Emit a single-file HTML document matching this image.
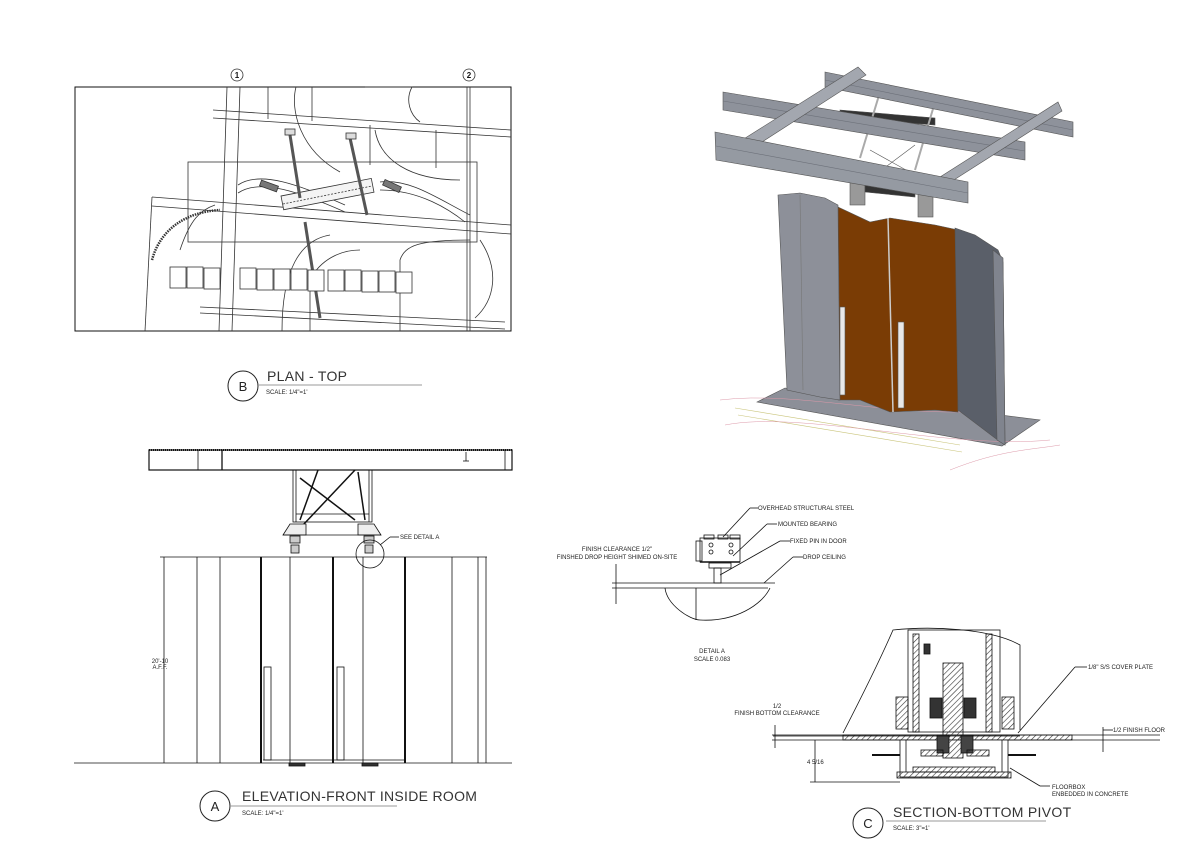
<!DOCTYPE html>
<html><head><meta charset="utf-8"><style>
html,body{margin:0;padding:0;background:#fff;}
svg{display:block;font-family:"Liberation Sans",sans-serif;}
.t{font-size:6px;fill:#222;}
.h{font-size:14px;fill:#333;letter-spacing:0.3px;}
</style></head><body>
<svg width="1200" height="861" viewBox="0 0 1200 861" xmlns="http://www.w3.org/2000/svg">
<defs>
<pattern id="hat" width="4" height="4" patternUnits="userSpaceOnUse" patternTransform="rotate(45)"><line x1="0" y1="0" x2="0" y2="4" stroke="#333" stroke-width="1.2"/></pattern>
</defs>
<rect width="1200" height="861" fill="#fff"/>

<!-- PLAN B -->
<g stroke="#333" fill="none" stroke-width="0.8">
<rect x="75" y="87" width="436" height="244" stroke="#111" stroke-width="1"/>
<circle cx="237" cy="75" r="6"/><circle cx="469" cy="75" r="6"/>
<rect x="188" y="162" width="289" height="80"/>
<line x1="227" y1="87" x2="219" y2="331"/><line x1="240" y1="87" x2="232" y2="331"/>
<line x1="467" y1="87" x2="467" y2="331"/><line x1="470" y1="87" x2="470" y2="331"/>
<line x1="213" y1="110" x2="511" y2="130"/><line x1="213" y1="118" x2="511" y2="137"/>
<line x1="152" y1="197" x2="511" y2="225"/><line x1="152" y1="206" x2="511" y2="234"/>
<line x1="200" y1="307" x2="505" y2="322"/><line x1="200" y1="313" x2="505" y2="329"/>
<line x1="152" y1="197" x2="145" y2="331"/>
<line x1="268" y1="87" x2="268" y2="119"/><line x1="312" y1="87" x2="312" y2="121"/>
<line x1="370" y1="125" x2="370" y2="165"/><line x1="436" y1="130" x2="436" y2="168"/>
<path d="M365 87 L412 87 C405 100 410 115 420 122 M296 87 C290 110 300 150 340 172 M375 130 C380 160 410 180 460 180 M282 331 C282 270 300 240 330 235 M310 331 L310 280 C320 260 340 250 360 250 M400 331 L400 260 C405 245 420 240 470 240 M180 250 C190 220 200 210 215 205 M480 240 C500 270 495 300 475 318"/>
<path d="M238 185 C260 170 300 185 345 205 M238 193 C260 178 300 192 345 212 M380 190 C420 190 450 210 465 222 M380 182 C410 178 440 200 470 215" />
<rect x="0" y="0" width="92" height="14" transform="translate(281 196) rotate(-11)" fill="#f4f4f4"/>
<line x1="283" y1="204" x2="372" y2="186" stroke-dasharray="2 1.5"/>
<rect x="260" y="183" width="18" height="6" transform="rotate(20 269 186)" fill="#777"/>
<rect x="383" y="183" width="18" height="6" transform="rotate(25 392 186)" fill="#777"/>
<line x1="290" y1="135" x2="300" y2="198" stroke-width="3" stroke="#555"/>
<line x1="350" y1="138" x2="367" y2="215" stroke-width="3" stroke="#555"/>
<line x1="305" y1="222" x2="320" y2="318" stroke-width="3" stroke="#555"/>
<rect x="285" y="129" width="10" height="6" fill="#ddd"/><rect x="346" y="133" width="10" height="6" fill="#ddd"/>
<path d="M152 260 C160 230 185 212 220 210" stroke-dasharray="1.5 1" stroke-width="2.5"/>
</g>
<g font-size="8" font-weight="bold" text-anchor="middle" fill="#111"><text x="237" y="78">1</text><text x="469" y="78">2</text></g>
<g stroke="#333" fill="#fff" stroke-width="0.8">
<rect x="170" y="267" width="16" height="21"/><rect x="187" y="267" width="16" height="21"/><rect x="204" y="268" width="16" height="21"/>
<rect x="240" y="268" width="16" height="21"/><rect x="257" y="269" width="16" height="21"/><rect x="274" y="269" width="16" height="21"/><rect x="291" y="269" width="16" height="21"/><rect x="308" y="270" width="16" height="21"/>
<rect x="328" y="270" width="16" height="21"/><rect x="345" y="270" width="16" height="21"/><rect x="362" y="271" width="16" height="21"/><rect x="379" y="271" width="16" height="21"/><rect x="396" y="272" width="16" height="21"/>
</g>
<circle cx="243" cy="386" r="15" fill="none" stroke="#222"/>
<text x="243" y="391" font-size="13" text-anchor="middle" fill="#222">B</text>
<text x="267" y="381" class="h">PLAN - TOP</text>
<line x1="258" y1="385" x2="422" y2="385" stroke="#999"/>
<text x="266" y="394" class="t" font-size="5">SCALE: 1/4"=1'</text>

<!-- ELEVATION A -->
<g stroke="#111" fill="none" stroke-width="0.8">
<rect x="149" y="450" width="363" height="20" stroke-width="1.2"/>
<line x1="149" y1="450" x2="512" y2="450" stroke-dasharray="1 1" stroke-width="2"/>
<line x1="198" y1="450" x2="198" y2="470"/><line x1="222" y1="450" x2="222" y2="470" stroke-width="1.3"/><line x1="505" y1="450" x2="505" y2="470"/>
<line x1="466" y1="452" x2="466" y2="461"/><line x1="463" y1="461" x2="469" y2="461"/>
<rect x="293" y="470" width="79" height="52"/>
<line x1="296" y1="470" x2="296" y2="522"/><line x1="369" y1="470" x2="369" y2="522"/>
<line x1="296" y1="514" x2="369" y2="514"/>
<line x1="300" y1="478" x2="355" y2="520" stroke-width="1.5"/><line x1="355" y1="470" x2="303" y2="525" stroke-width="1.5"/>
<line x1="318" y1="470" x2="300" y2="520" stroke-width="1.5"/><line x1="358" y1="472" x2="365" y2="520" stroke-width="1.5"/>
<path d="M283 535 L290 524 L306 524 L306 535 Z M358 535 L358 524 L374 524 L381 535 Z" fill="#eee"/>
<line x1="283" y1="535" x2="381" y2="535"/>
<rect x="290" y="536" width="10" height="7" fill="#ccc"/><rect x="291" y="545" width="8" height="8" fill="#ccc"/>
<rect x="364" y="536" width="10" height="7" fill="#ccc"/><rect x="365" y="545" width="8" height="8" fill="#ccc"/>
<line x1="160" y1="557" x2="487" y2="557"/>
<line x1="74" y1="763" x2="512" y2="763"/>
<line x1="197" y1="557" x2="197" y2="763"/><line x1="220" y1="557" x2="220" y2="763"/>
<line x1="261" y1="557" x2="261" y2="763" stroke-width="2"/><line x1="290" y1="557" x2="290" y2="763"/>
<line x1="333" y1="557" x2="333" y2="763" stroke-width="2"/><line x1="363" y1="557" x2="363" y2="763"/>
<line x1="405" y1="557" x2="405" y2="763" stroke-width="2"/><line x1="452" y1="557" x2="452" y2="763"/>
<line x1="478" y1="557" x2="478" y2="763"/><line x1="486" y1="557" x2="486" y2="763"/>
<line x1="263" y1="760" x2="404" y2="760"/>
<line x1="164" y1="557" x2="164" y2="763"/>
<rect x="264" y="667" width="7" height="93"/><rect x="337" y="667" width="7" height="93"/>
<circle cx="370" cy="554" r="14"/>
<line x1="380" y1="545" x2="390" y2="537"/><line x1="390" y1="537" x2="399" y2="537"/>
<rect x="289" y="763" width="16" height="3" fill="#333"/><rect x="362" y="763" width="16" height="3" fill="#333"/>
</g>
<text x="400" y="539" class="t">SEE DETAIL  A</text>
<text x="160" y="663" class="t" font-size="5" text-anchor="middle">20'-10</text>
<text x="160" y="669" class="t" font-size="5" text-anchor="middle">A.F.F.</text>
<circle cx="215" cy="806" r="15" fill="none" stroke="#222"/>
<text x="215" y="811" font-size="13" text-anchor="middle" fill="#222">A</text>
<text x="242" y="801" class="h">ELEVATION-FRONT INSIDE ROOM</text>
<line x1="230" y1="806" x2="397" y2="806" stroke="#999"/>
<text x="242" y="815" class="t" font-size="5">SCALE: 1/4"=1'</text>

<!-- 3D render -->
<g stroke="#555" stroke-width="0.6">
<polygon points="757,402 785,388 1040,420 1002,446" fill="#8c8f98"/>
<g stroke="#c9c47a" fill="none"><path d="M735 408 L960 445"/><path d="M738 415 L962 452"/></g>
<path d="M720 400 C800 390 900 420 1000 410 M725 425 C800 410 950 450 1050 440 M950 470 C1000 450 1030 450 1060 445" stroke="#d9a" fill="none" stroke-width="0.5"/>
<polygon points="838,207 870,222 890,218 935,225 958,230 958,412 935,410 890,412 860,400 838,400" fill="#7a3c05"/>
<line x1="888" y1="218" x2="893" y2="412" stroke="#ccc" stroke-width="1.5"/>
<polygon points="778,195 800,193 825,198 838,205 840,400 820,397 787,390" fill="#8d9099"/>
<line x1="800" y1="195" x2="803" y2="390" stroke="#777"/>
<polygon points="955,228 975,235 998,250 1003,262 1005,445 995,438 958,410" fill="#5a5f69"/>
<polygon points="993,250 1003,258 1005,445 997,440" fill="#80848e"/>
<rect x="840" y="307" width="5" height="88" fill="#e8e8e8"/>
<rect x="898" y="322" width="6" height="86" fill="#e8e8e8"/>
<rect x="850" y="180" width="15" height="25" fill="#999"/><rect x="918" y="192" width="15" height="25" fill="#999"/>
<polygon points="865,185 915,190 915,197 865,192" fill="#333"/>
<polygon points="840,110 935,118 935,125 840,118" fill="#333"/>
<line x1="880" y1="92" x2="860" y2="158" stroke="#aaa" stroke-width="2"/><line x1="935" y1="102" x2="915" y2="170" stroke="#aaa" stroke-width="2"/>
<line x1="870" y1="150" x2="915" y2="175"/><line x1="915" y1="145" x2="875" y2="175"/>
<polygon points="825,72 1073,122 1073,137 825,87" fill="#8e929b"/>
<line x1="825" y1="80" x2="1073" y2="130" stroke="#6d717a"/>
<polygon points="723,92 1025,142 1025,160 723,110" fill="#8e929b"/>
<line x1="723" y1="101" x2="1025" y2="151" stroke="#6d717a"/>
<polygon points="723,152 858,67 866,75 731,162" fill="#a3a7af"/>
<polygon points="940,177 1058,102 1062,111 946,185" fill="#a3a7af"/>
<polygon points="715,132 968,182 968,203 716,160" fill="#959aa2"/>
<line x1="716" y1="146" x2="968" y2="193" stroke="#6d717a"/>
</g>

<!-- DETAIL A -->
<g stroke="#111" fill="none" stroke-width="0.8">
<line x1="612" y1="583" x2="775" y2="583"/><line x1="612" y1="588" x2="768" y2="588"/>
<path d="M665 588 C667 605 690 620 700 620 C735 622 762 605 770 588"/>
<line x1="696" y1="588" x2="696" y2="620"/>
<rect x="700" y="538" width="40" height="24" fill="#fff"/>
<rect x="696" y="541" width="6" height="20"/>
<rect x="704" y="535" width="10" height="4"/><rect x="718" y="535" width="10" height="4"/><rect x="730" y="535" width="10" height="4"/>
<line x1="700" y1="562" x2="740" y2="562" stroke-width="1.5"/>
<rect x="709" y="563" width="22" height="5"/>
<rect x="714" y="568" width="7" height="15"/>
<circle cx="711" cy="545" r="2"/><circle cx="711" cy="552" r="2"/><circle cx="731" cy="545" r="2"/><circle cx="731" cy="552" r="2"/>
<line x1="616" y1="564" x2="616" y2="604"/>
<line x1="723" y1="537" x2="750" y2="508"/><line x1="750" y1="508" x2="758" y2="508"/>
<line x1="733" y1="556" x2="767" y2="524"/><line x1="767" y1="524" x2="777" y2="524"/>
<line x1="720" y1="575" x2="780" y2="541"/><line x1="780" y1="541" x2="790" y2="541"/>
<line x1="764" y1="583" x2="793" y2="557"/><line x1="793" y1="557" x2="803" y2="557"/>
</g>
<g class="t">
<text x="758" y="510">OVERHEAD STRUCTURAL STEEL</text>
<text x="778" y="526">MOUNTED BEARING</text>
<text x="790" y="543">FIXED PIN IN DOOR</text>
<text x="803" y="559">DROP CEILING</text>
<text x="617" y="551" text-anchor="middle">FINISH CLEARANCE 1/2"</text>
<text x="617" y="559" text-anchor="middle">FINSHED DROP HEIGHT SHIMED ON-SITE</text>
<text x="712" y="653" text-anchor="middle">DETAIL  A</text>
<text x="712" y="661" text-anchor="middle">SCALE  0.083</text>
</g>

<!-- SECTION C -->
<g stroke="#111" fill="none" stroke-width="0.8">
<path d="M843 733 C860 700 880 660 893 630 C930 626 990 628 1020 645 L1020 730"/>
<line x1="772" y1="735" x2="1160" y2="735"/><line x1="772" y1="740" x2="1160" y2="740"/>
<rect x="843" y="735" width="229" height="5" fill="url(#hat)"/>
<rect x="900" y="740" width="108" height="37" fill="#fff"/>
<line x1="906" y1="740" x2="906" y2="772"/><line x1="1002" y1="740" x2="1002" y2="772"/>
<rect x="897" y="772" width="114" height="6" fill="url(#hat)"/>
<rect x="913" y="767" width="82" height="5" fill="url(#hat)"/>
<line x1="872" y1="755" x2="900" y2="755" stroke-width="2"/><line x1="1008" y1="755" x2="1036" y2="755" stroke-width="2"/>
<rect x="908" y="630" width="92" height="102"/>
<rect x="913" y="634" width="6" height="98" fill="url(#hat)"/><rect x="986" y="634" width="6" height="98" fill="url(#hat)"/>
<rect x="896" y="697" width="12" height="32" fill="url(#hat)"/><rect x="1002" y="697" width="12" height="32" fill="url(#hat)"/>
<rect x="943" y="663" width="20" height="95" fill="url(#hat)"/>
<rect x="930" y="698" width="12" height="20" fill="#333"/><rect x="964" y="698" width="12" height="20" fill="#333"/>
<rect x="937" y="735" width="12" height="18" fill="#444"/><rect x="961" y="735" width="12" height="18" fill="#444"/>
<rect x="921" y="750" width="22" height="6" fill="url(#hat)"/><rect x="967" y="750" width="22" height="6" fill="url(#hat)"/>
<rect x="924" y="644" width="6" height="10" fill="#333"/>
<line x1="773" y1="736" x2="1020" y2="736"/>
<line x1="815" y1="740" x2="815" y2="782"/><line x1="810" y1="782" x2="900" y2="782"/>
<line x1="775" y1="725" x2="775" y2="748"/>
<line x1="1103" y1="727" x2="1103" y2="752"/><line x1="1103" y1="730" x2="1113" y2="730"/>
<line x1="1018" y1="733" x2="1075" y2="667"/><line x1="1075" y1="667" x2="1087" y2="667"/>
<line x1="1010" y1="768" x2="1040" y2="786"/><line x1="1040" y1="786" x2="1050" y2="786"/>
</g>
<g class="t">
<text x="1088" y="669">1/8" S/S COVER PLATE</text>
<text x="1113" y="732">1/2 FINISH FLOOR</text>
<text x="1052" y="789">FLOORBOX</text>
<text x="1052" y="796">ENBEDDED IN CONCRETE</text>
<text x="777" y="708" text-anchor="middle">1/2</text>
<text x="777" y="715" text-anchor="middle">FINISH BOTTOM CLEARANCE</text>
<text x="807" y="764">4 5/16</text>
</g>
<circle cx="868" cy="823" r="15" fill="none" stroke="#222"/>
<text x="868" y="828" font-size="13" text-anchor="middle" fill="#222">C</text>
<text x="893" y="817" class="h">SECTION-BOTTOM PIVOT</text>
<line x1="886" y1="821" x2="1046" y2="821" stroke="#999"/>
<text x="893" y="830" class="t" font-size="5">SCALE: 3"=1'</text>
</svg>
</body></html>
